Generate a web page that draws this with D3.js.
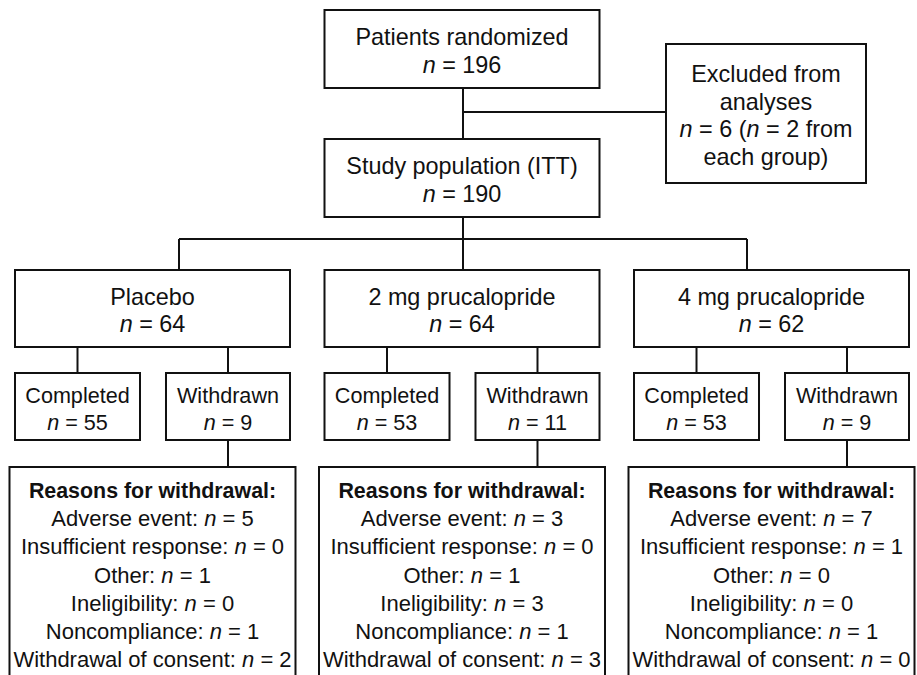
<!DOCTYPE html>
<html>
<head>
<meta charset="utf-8">
<script src="https://cdn.jsdelivr.net/npm/d3@7/dist/d3.min.js"></script>
<style>
  html, body { margin: 0; padding: 0; background: #fff; }
  svg { display: block; }
  text { font-family: "Liberation Sans", Arial, Helvetica, sans-serif; fill: #111; }
</style>
</head>
<body>
<div id="chart"></div>
<script>
// ---- data ----
const randomizedLabel = "Patients randomized";
const randomizedN = 196;
const studyLabel = "Study population (ITT)";
const studyN = 190;
const excludedLabel = ["Excluded from", "analyses"];
const excludedN = 6;
const excludedPerGroup = 2;
const groups = ["Placebo", "2 mg prucalopride", "4 mg prucalopride"];
const groupN = [64, 64, 62];
const completedN = [55, 53, 53];
const withdrawnN = [9, 11, 9];
const reasonsTitle = "Reasons for withdrawal:";
const reasons = ["Adverse event", "Insufficient response", "Other", "Ineligibility", "Noncompliance", "Withdrawal of consent"];
const reasonCounts = [
  [5, 0, 1, 0, 1, 2],
  [3, 0, 1, 3, 1, 3],
  [7, 1, 0, 0, 1, 0]
];

// ---- layout ----
const W = 917, H = 675;
const FS_BIG = 23.4, FS_SUB = 21.6, FS_REASON = 22, FS_BOLD = 21.4;
const LH = 27.5;
const svg = d3.select("#chart").append("svg").attr("width", W).attr("height", H);

const x = d3.scaleBand().domain(groups).range([15, 909]).paddingInner(0.1115).paddingOuter(0);
const bw = x.bandwidth();
const mid = x(groups[1]) + bw / 2 + 1;           // central trunk
const branchHalf = 284;

const lineG = svg.append("g").attr("stroke", "#111").attr("stroke-width", 2).attr("fill", "none");
const textG = svg.append("g");

function nSeg(v, pre) { return [{ t: (pre || "") }, { t: "n", i: true }, { t: " = " + v }]; }

function box(x0, y0, x1, y1) {
  lineG.append("rect").attr("x", x0).attr("y", y0).attr("width", x1 - x0).attr("height", y1 - y0).attr("fill", "#fff");
}
function line(x0, y0, x1, y1) {
  lineG.append("line").attr("x1", x0).attr("y1", y0).attr("x2", x1).attr("y2", y1);
}
function writeLines(cx, baselines, lines, sizes) {
  lines.forEach((segs, k) => {
    const t = textG.append("text").attr("x", cx).attr("y", baselines[k])
      .attr("text-anchor", "middle").attr("font-size", sizes[k]);
    (Array.isArray(segs) ? segs : [{ t: segs }]).forEach(s => {
      if (!s.t) return;
      const sp = t.append("tspan").text(s.t);
      if (s.i) sp.attr("font-style", "italic");
      if (s.b) sp.attr("font-weight", "bold");
    });
  });
}
function centeredText(x0, y0, x1, y1, lines, fs) {
  const cy = (y0 + y1) / 2, n = lines.length;
  const bl = lines.map((_, k) => cy + (k - (n - 1) / 2) * LH + 10);
  writeLines((x0 + x1) / 2, bl, lines, lines.map(() => fs));
}

// vertical levels
const topY = [10, 88], studyY = [139, 217], joinY = 112, branchY = 239;
const grpY = [270, 347], subY = [373, 440], reasonY = [467, 700];
const exX = [666, 866], exY = [44, 183];

// connectors
line(mid, topY[1], mid, studyY[0]);
line(mid, joinY, exX[0], joinY);
line(mid, studyY[1], mid, grpY[0]);
line(mid - branchHalf, branchY, mid + branchHalf, branchY);
line(mid - branchHalf, branchY, mid - branchHalf, grpY[0]);
line(mid + branchHalf, branchY, mid + branchHalf, grpY[0]);

// top boxes
const tx0 = x(groups[1]), tx1 = tx0 + bw;
box(tx0, topY[0], tx1, topY[1]);
centeredText(tx0, topY[0], tx1, topY[1], [randomizedLabel, nSeg(randomizedN)], FS_BIG);
box(tx0, studyY[0], tx1, studyY[1]);
centeredText(tx0, studyY[0], tx1, studyY[1], [studyLabel, nSeg(studyN)], FS_BIG);
box(exX[0], exY[0], exX[1], exY[1]);
centeredText(exX[0], exY[0], exX[1], exY[1], [
  excludedLabel[0], excludedLabel[1],
  [{ t: "n", i: true }, { t: " = " + excludedN + " (" }, { t: "n", i: true }, { t: " = " + excludedPerGroup + " from" }],
  "each group)"
], FS_BIG);

// group columns
const subW = 125;
groups.forEach((gname, gi) => {
  const gx0 = x(gname), gx1 = gx0 + bw, gcx = (gx0 + gx1) / 2;
  box(gx0, grpY[0], gx1, grpY[1]);
  centeredText(gx0, grpY[0], gx1, grpY[1], [gname, nSeg(groupN[gi])], FS_BIG);

  const cx0 = gx0, cx1 = gx0 + subW;
  const wx0 = gx1 - subW + 1, wx1 = gx1;
  const ccx = (cx0 + cx1) / 2, wcx = (wx0 + wx1) / 2;
  line(ccx, grpY[1], ccx, subY[0]);
  line(wcx, grpY[1], wcx, subY[0]);
  box(cx0, subY[0], cx1, subY[1]);
  centeredText(cx0, subY[0], cx1, subY[1], ["Completed", nSeg(completedN[gi])], FS_SUB);
  box(wx0, subY[0], wx1, subY[1]);
  centeredText(wx0, subY[0], wx1, subY[1], ["Withdrawn", nSeg(withdrawnN[gi])], FS_SUB);

  line(wcx, subY[1], wcx, reasonY[0]);
  const rx0 = gcx - 143, rx1 = gcx + 143;
  box(rx0, reasonY[0], rx1, reasonY[1]);
  const lines = [[{ t: reasonsTitle, b: true }]].concat(
    reasons.map((r, k) => nSeg(reasonCounts[gi][k], r + ": "))
  );
  const bl = lines.map((_, k) => reasonY[0] + 31 + k * 28.2);
  writeLines(gcx, bl, lines, lines.map((_, k) => k === 0 ? FS_BOLD : FS_REASON));
});
</script>
</body>
</html>
